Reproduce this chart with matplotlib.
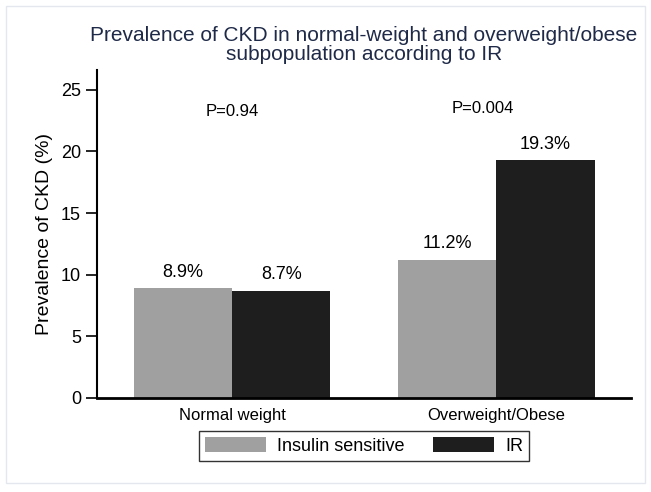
import numpy as np
import matplotlib.pyplot as plt

plt.rcParams['font.family'] = ['Liberation Sans', 'DejaVu Sans']

groups = ['Normal weight', 'Overweight/Obese']
series = ['Insulin sensitive', 'IR']
insulin_sensitive = [8.9, 11.2]
ir = [8.7, 19.3]
p_values = ['P=0.94', 'P=0.004']
colors = ['#a0a0a0', '#1e1e1e']

fig = plt.figure(figsize=(6.51, 4.92), dpi=100)
ax = fig.add_axes([97 / 651, 1 - 398 / 492, 534 / 651, 328 / 492])

x = np.arange(len(groups))
w = 0.372
bars1 = ax.bar(x - w / 2, insulin_sensitive, w, color=colors[0], label=series[0])
bars2 = ax.bar(x + w / 2, ir, w, color=colors[1], label=series[1])

for bars in (bars1, bars2):
    for b in bars:
        h = b.get_height()
        ax.text(b.get_x() + b.get_width() / 2, h + 0.6, f'{h:.1f}%',
                ha='center', va='bottom', fontsize=13)

p_y = [23.2, 23.5]
p_dx = [0.0, -0.05]
for i, p in enumerate(p_values):
    ax.text(x[i] + p_dx[i], p_y[i], p, ha='center', va='center', fontsize=12)

ax.set_xlim(-0.511, 1.51)
ax.set_ylim(0, 26.6)
ax.set_yticks([0, 5, 10, 15, 20, 25])
ax.set_xticks(x)
ax.set_xticklabels(groups, fontsize=12)
ax.tick_params(axis='x', length=0, pad=7)
ax.tick_params(axis='y', length=8, width=1.2, labelsize=13, direction='out')
for s in ['top', 'right']:
    ax.spines[s].set_visible(False)
ax.spines['left'].set_linewidth(1.5)
ax.spines['bottom'].set_linewidth(2)
ax.set_ylabel('Prevalence of CKD (%)', fontsize=14, labelpad=6)

ax.set_title('Prevalence of CKD in normal-weight and overweight/obese\nsubpopulation according to IR',
             fontsize=15, color='#1f2a48', pad=7, linespacing=1.05)

leg = ax.legend(loc='upper center', bbox_to_anchor=(0.5, -0.1), ncol=2,
                frameon=True, fancybox=False, edgecolor='black', fontsize=13,
                handlelength=3.4, handleheight=0.9, handletextpad=0.6,
                columnspacing=1.55, borderpad=0.35, borderaxespad=0)
leg.get_frame().set_linewidth(1.0)

fig.patches.append(plt.Rectangle((6 / 651, 9 / 492), 639 / 651, 477 / 492,
                                 transform=fig.transFigure, fill=False,
                                 edgecolor='#e4e8ee', linewidth=1))

fig.savefig('out.png', dpi=100)
